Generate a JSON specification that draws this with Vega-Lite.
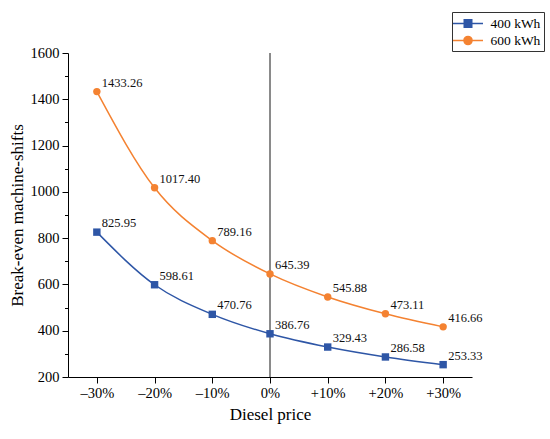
{
  "$schema": "https://vega.github.io/schema/vega-lite/v6.json",
  "width": 404,
  "height": 324,
  "autosize": "none",
  "padding": {"left": 68, "top": 53, "right": 78, "bottom": 62},
  "config": {
    "font": "Liberation Serif",
    "view": {"stroke": null},
    "axis": {
      "domainColor": "#000",
      "tickColor": "#000",
      "labelColor": "#000",
      "titleColor": "#000",
      "labelFontSize": 14.5,
      "titleFontSize": 17,
      "titleFontWeight": "normal",
      "labelFont": "Liberation Serif",
      "titleFont": "Liberation Serif",
      "tickSize": 6,
      "grid": false
    }
  },
  "data": {
    "values": [
      {"p": -30, "v": 825.95, "s": "400 kWh"},
      {"p": -20, "v": 598.61, "s": "400 kWh"},
      {"p": -10, "v": 470.76, "s": "400 kWh"},
      {"p": 0, "v": 386.76, "s": "400 kWh"},
      {"p": 10, "v": 329.43, "s": "400 kWh"},
      {"p": 20, "v": 286.58, "s": "400 kWh"},
      {"p": 30, "v": 253.33, "s": "400 kWh"},
      {"p": -30, "v": 1433.26, "s": "600 kWh"},
      {"p": -20, "v": 1017.40, "s": "600 kWh"},
      {"p": -10, "v": 789.16, "s": "600 kWh"},
      {"p": 0, "v": 645.39, "s": "600 kWh"},
      {"p": 10, "v": 545.88, "s": "600 kWh"},
      {"p": 20, "v": 473.11, "s": "600 kWh"},
      {"p": 30, "v": 416.66, "s": "600 kWh"}
    ]
  },
  "layer": [
    {
      "mark": {"type": "rule", "color": "#8a8a8a", "strokeWidth": 1},
      "encoding": {"x": {"datum": 0, "type": "quantitative"}}
    },
    {
      "encoding": {
        "x": {
          "field": "p",
          "type": "quantitative",
          "scale": {"domain": [-35, 35], "nice": false, "zero": false},
          "axis": {
            "title": "Diesel price",
            "values": [-30, -20, -10, 0, 10, 20, 30],
            "labelExpr": "datum.value > 0 ? '+' + datum.value + '%' : (datum.value < 0 ? '–' + abs(datum.value) + '%' : '0%')",
            "labelPadding": 3,
            "titlePadding": 7
          }
        },
        "y": {
          "field": "v",
          "type": "quantitative",
          "scale": {"domain": [200, 1600], "nice": false, "zero": false},
          "axis": {
            "title": "Break-even machine-shifts",
            "values": [200, 300, 400, 500, 600, 700, 800, 900, 1000, 1100, 1200, 1300, 1400, 1500, 1600],
            "labelExpr": "datum.value % 200 === 0 ? datum.label : ''",
            "labelOverlap": false,
            "format": "d",
            "tickSize": {"condition": {"test": "datum.value % 200 === 0", "value": 6}, "value": 3.5},
            "labelPadding": 3,
            "titlePadding": 4
          }
        },
        "color": {
          "field": "s",
          "type": "nominal",
          "scale": {"domain": ["400 kWh", "600 kWh"], "range": ["#2E56A6", "#F48231"]},
          "legend": {
            "title": null,
            "orient": "none",
            "legendX": 384,
            "legendY": -41,
            "strokeColor": "#333",
            "fillColor": "white",
            "padding": 3,
            "labelFontSize": 13.5,
            "labelFont": "Liberation Serif",
            "labelColor": "#000",
            "labelOffset": 14,
            "symbolOffset": 4.5,
            "rowPadding": 1,
            "symbolSize": 225,
            "symbolStrokeWidth": 1.5,
            "encode": {
              "symbols": {
                "update": {
                  "shape": {"signal": "datum.value === '400 kWh' ? 'M-2,0L2,0M-0.5,-0.5L0.5,-0.5L0.5,0.5L-0.5,0.5Z' : 'M-2,0L2,0M-0.54,0A0.54,0.54 0 1,0 0.54,0A0.54,0.54 0 1,0 -0.54,0Z'"},
                  "fill": {"signal": "datum.value === '400 kWh' ? '#2E56A6' : '#F48231'"},
                  "stroke": {"signal": "datum.value === '400 kWh' ? '#2E56A6' : '#F48231'"},
                  "strokeWidth": {"value": 1.5},
                  "opacity": {"value": 1}
                }
              }
            }
          }
        }
      },
      "layer": [
        {"mark": {"type": "line", "interpolate": "monotone", "strokeWidth": 1.5}},
        {
          "transform": [{"filter": "datum.s === '400 kWh'"}],
          "mark": {"type": "point", "filled": true, "opacity": 1, "size": 55, "shape": "square"}
        },
        {
          "transform": [{"filter": "datum.s === '600 kWh'"}],
          "mark": {"type": "point", "filled": true, "opacity": 1, "size": 55, "shape": "circle"}
        },
        {
          "mark": {"type": "text", "align": "left", "baseline": "alphabetic", "dx": 5, "dy": -5, "fontSize": 12.5, "font": "Liberation Serif", "color": "#111"},
          "encoding": {
            "text": {"field": "v", "type": "quantitative", "format": ".2f"},
            "color": {"value": "#111"}
          }
        }
      ]
    }
  ]
}
